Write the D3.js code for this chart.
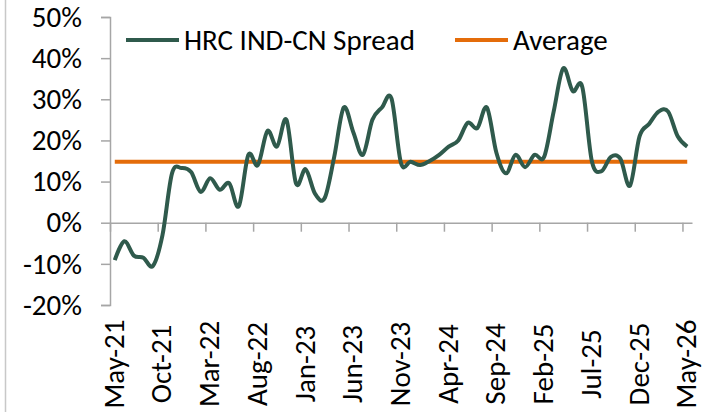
<!DOCTYPE html>
<html>
<head>
<meta charset="utf-8">
<script src="https://cdn.jsdelivr.net/npm/d3@7"></script>
<style>
  html, body { margin: 0; padding: 0; background: #fff; }
  svg { display: block; }
  text { font-family: Carlito, Calibri, Lato, "Open Sans", sans-serif; fill: #000; }
</style>
</head>
<body>
<svg id="chart" width="725" height="412"></svg>
<script>
const categories = [
  "May-21","Jun-21","Jul-21","Aug-21","Sep-21","Oct-21","Nov-21","Dec-21",
  "Jan-22","Feb-22","Mar-22","Apr-22","May-22","Jun-22","Jul-22","Aug-22","Sep-22","Oct-22","Nov-22","Dec-22",
  "Jan-23","Feb-23","Mar-23","Apr-23","May-23","Jun-23","Jul-23","Aug-23","Sep-23","Oct-23","Nov-23","Dec-23",
  "Jan-24","Feb-24","Mar-24","Apr-24","May-24","Jun-24","Jul-24","Aug-24","Sep-24","Oct-24","Nov-24","Dec-24",
  "Jan-25","Feb-25","Mar-25","Apr-25","May-25","Jun-25","Jul-25","Aug-25","Sep-25","Oct-25","Nov-25","Dec-25",
  "Jan-26","Feb-26","Mar-26","Apr-26","May-26"
];
const spread = [
  -9.1, -4.5, -8.0, -8.5, -10.5, -3.0, 12.0, 13.3,
  12.3, 7.5, 10.8, 8.0, 9.6, 4.0, 16.5, 14.0, 22.3, 18.5, 25.0, 9.5,
  13.0, 7.0, 6.0, 16.0, 28.0, 22.0, 16.5, 25.0, 28.0, 30.2, 14.5, 14.8,
  14.0, 15.0, 16.5, 18.5, 20.0, 24.3, 23.0, 28.0, 17.0, 12.0, 16.5, 13.5,
  16.5, 16.0, 27.0, 37.5, 32.0, 33.0, 15.0, 12.5, 16.0, 15.5, 9.0, 21.0,
  24.0, 27.0, 27.0, 21.0, 18.5
];
const average = [14.8];
const yTicks = [-20, -10, 0, 10, 20, 30, 40, 50];
const labelEvery = 5;
const seriesNames = ["HRC IND-CN Spread", "Average"];
const colors = ["#2f5a4c", "#e46c0a"];

const svg = d3.select("#chart");
const plot = { left: 110, right: 692, top: 17, bottom: 305 };

// light border line at the left edge
svg.append("line").attr("x1", 5.5).attr("x2", 5.5).attr("y1", 0).attr("y2", 412)
  .attr("stroke", "#c8c8c8").attr("stroke-width", 1.5);

const x = d3.scaleLinear().domain([-0.5, categories.length - 0.5]).range([plot.left, plot.right]);
const y = d3.scaleLinear().domain([-20, 50]).range([plot.bottom, plot.top]);

// Y axis
const yAxis = svg.append("g").attr("transform", `translate(${plot.left},0)`)
  .call(d3.axisLeft(y).tickValues(yTicks).tickSize(9).tickPadding(19)
    .tickFormat(d => d + "%"));
yAxis.select(".domain").attr("stroke", "#a6a6a6").attr("stroke-width", 1.5);
yAxis.selectAll(".tick line").attr("stroke", "#a6a6a6").attr("stroke-width", 1.5);
yAxis.selectAll(".tick text").attr("font-size", 29).attr("font-family", null);

// X axis at 0%
const boundaries = d3.range(0, categories.length, labelEvery).map(i => i - 0.5);
const xAxis = svg.append("g").attr("transform", `translate(0,${y(0)})`)
  .call(d3.axisBottom(x).tickValues(boundaries).tickSize(9).tickSizeOuter(0).tickFormat(""));
xAxis.select(".domain").attr("stroke", "#a6a6a6").attr("stroke-width", 1.5);
xAxis.selectAll(".tick line").attr("stroke", "#a6a6a6").attr("stroke-width", 1.5);

// X labels (rotated) at the bottom
const labelIdx = d3.range(0, categories.length, labelEvery);
svg.append("g").selectAll("text").data(labelIdx).join("text")
  .attr("transform", i => `translate(${x(i) + 9},364) rotate(-90)`)
  .attr("text-anchor", "middle")
  .attr("font-size", 29)
  .text(i => categories[i]);

// Average line
svg.append("line")
  .attr("x1", x(0)).attr("x2", x(categories.length - 1))
  .attr("y1", y(average[0])).attr("y2", y(average[0]))
  .attr("stroke", colors[1]).attr("stroke-width", 4);

// Spread line
const line = d3.line().x((d, i) => x(i)).y(d => y(d)).curve(d3.curveCardinal.tension(0));
svg.append("path").datum(spread)
  .attr("d", line).attr("fill", "none")
  .attr("stroke", colors[0]).attr("stroke-width", 4).attr("stroke-linejoin", "round");

// Legend
const legend = [
  { name: seriesNames[0], color: colors[0], x0: 126 },
  { name: seriesNames[1], color: colors[1], x0: 455 }
];
const lg = svg.append("g").selectAll("g").data(legend).join("g")
  .attr("transform", d => `translate(${d.x0},40)`);
lg.append("line").attr("x1", 0).attr("x2", 53).attr("y1", 0).attr("y2", 0)
  .attr("stroke", d => d.color).attr("stroke-width", 4);
lg.append("text").attr("x", 58).attr("y", 10).attr("font-size", 29).text(d => d.name);
</script>
</body>
</html>
